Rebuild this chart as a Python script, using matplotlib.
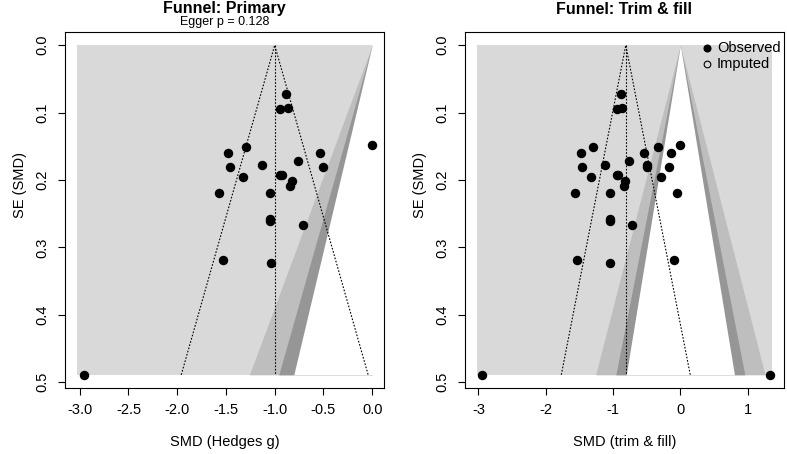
import numpy as np
import matplotlib
matplotlib.use("Agg")
import matplotlib.pyplot as plt
from matplotlib.patches import Rectangle

plt.rcParams['font.family'] = ['Liberation Sans', 'DejaVu Sans']

smd_obs = [-0.879, -0.947, -0.865, 0.000, -1.291, -1.483, -0.539, -0.765, -1.126,
           -1.459, -0.501, -1.328, -0.941, -0.930, -0.820, -0.841, -1.569, -1.047,
           -1.050, -1.050, -0.714, -1.534, -1.040, -2.955]
se_obs = [0.073, 0.095, 0.093, 0.148, 0.151, 0.160, 0.160, 0.172, 0.178,
          0.180, 0.180, 0.196, 0.192, 0.193, 0.201, 0.209, 0.219, 0.220,
          0.258, 0.261, 0.267, 0.318, 0.323, 0.489]

# estudios imputados por trim & fill
smd_imp = [-0.331, -0.139, -0.496, -0.163, -0.294, -0.053, -0.088, 1.333]
se_imp = [0.151, 0.160, 0.178, 0.180, 0.196, 0.219, 0.318, 0.489]

est_primary = -1.0
est_tf = -0.811
se_max = 0.489
xlim_primary = (-3.03, 0.0)
xlim_tf = (-3.025, 1.365)
z_levels = [2.576, 1.96, 1.645]
shades = ['#bebebe', '#969696', 'white']
back = '#d9d9d9'

xticks_primary = [-3.0, -2.5, -2.0, -1.5, -1.0, -0.5, 0.0]
xticks_tf = [-3, -2, -1, 0, 1]
yticks = [0.0, 0.1, 0.2, 0.3, 0.4, 0.5]

fig = plt.figure(figsize=(7.87, 4.54), dpi=100)
W, H = 787, 454


def funnel(ax, x, y, est, xlim, xticks, xfmt, xlabel):
    # rectangulo de fondo y contornos de significancia (centrados en 0)
    rect = Rectangle((xlim[0], 0), xlim[1] - xlim[0], se_max, facecolor=back,
                     edgecolor='none', zorder=0)
    ax.add_patch(rect)
    se_grid = np.array([0.0, se_max])
    for z, c in zip(z_levels, shades):
        poly = ax.fill_betweenx(se_grid, -z * se_grid, z * se_grid, color=c,
                                linewidth=0, zorder=1)
        poly.set_clip_path(rect)
    # lineas del embudo
    ax.plot([est, est], [0, se_max], color='black', ls=(0, (1.5, 1.5)), lw=0.8, zorder=2)
    ax.plot([est - 1.96 * se_max, est, est + 1.96 * se_max], [se_max, 0, se_max],
            color='black', ls=(0, (1.5, 1.5)), lw=0.8, zorder=2)
    ax.plot(x, y, 'o', color='black', ms=5.8, zorder=3)

    rx = (xlim[1] - xlim[0]) * 0.04
    ry = se_max * 0.04
    ax.set_xlim(xlim[0] - rx, xlim[1] + rx)
    ax.set_ylim(se_max + ry, -ry)
    ax.set_xticks(xticks)
    ax.set_xticklabels([xfmt.format(v) for v in xticks])
    ax.set_yticks(yticks)
    ax.set_yticklabels(['{:.1f}'.format(v) for v in yticks], rotation=90, va='center')
    ax.tick_params(direction='out', length=5, width=0.8, labelsize=10.5, pad=6)
    for s in ax.spines.values():
        s.set_linewidth(0.8)
    ax.set_xlabel(xlabel, fontsize=10.5, labelpad=13)


ax1 = fig.add_axes([65 / W, 1 - 388 / H, 319 / W, 356 / H])
funnel(ax1, smd_obs, se_obs, est_primary, xlim_primary, xticks_primary, '{:.1f}',
       'SMD (Hedges g)')

ax2 = fig.add_axes([465 / W, 1 - 388 / H, 319 / W, 356 / H])
funnel(ax2, smd_obs + smd_imp, se_obs + se_imp, est_tf, xlim_tf, xticks_tf, '{:d}',
       'SMD (trim & fill)')

fig.text(20 / W, 1 - 185 / H, 'SE (SMD)', rotation=90, ha='center', va='center', fontsize=10.5)
fig.text(420 / W, 1 - 185 / H, 'SE (SMD)', rotation=90, ha='center', va='center', fontsize=10.5)

fig.text(224.5 / W, 1 - 9 / H, 'Funnel: Primary', ha='center', va='center',
         fontsize=11.5, fontweight='bold')
fig.text(224.5 / W, 1 - 21.5 / H, 'Egger p = 0.128', ha='center', va='center', fontsize=9)
fig.text(624.5 / W, 1 - 9 / H, 'Funnel: Trim & fill', ha='center', va='center',
         fontsize=11.5, fontweight='bold')

# leyenda
fig.lines.append(plt.Line2D([707 / W], [1 - 48 / H], marker='o', ms=4.8, color='black',
                            ls='none', transform=fig.transFigure))
fig.lines.append(plt.Line2D([707 / W], [1 - 64 / H], marker='o', ms=4.8, mfc='none',
                            mec='black', mew=0.8, ls='none', transform=fig.transFigure))
fig.text(717 / W, 1 - 48 / H, 'Observed', ha='left', va='center', fontsize=10.5)
fig.text(717 / W, 1 - 64 / H, 'Imputed', ha='left', va='center', fontsize=10.5)

fig.savefig('out.png', dpi=100)
